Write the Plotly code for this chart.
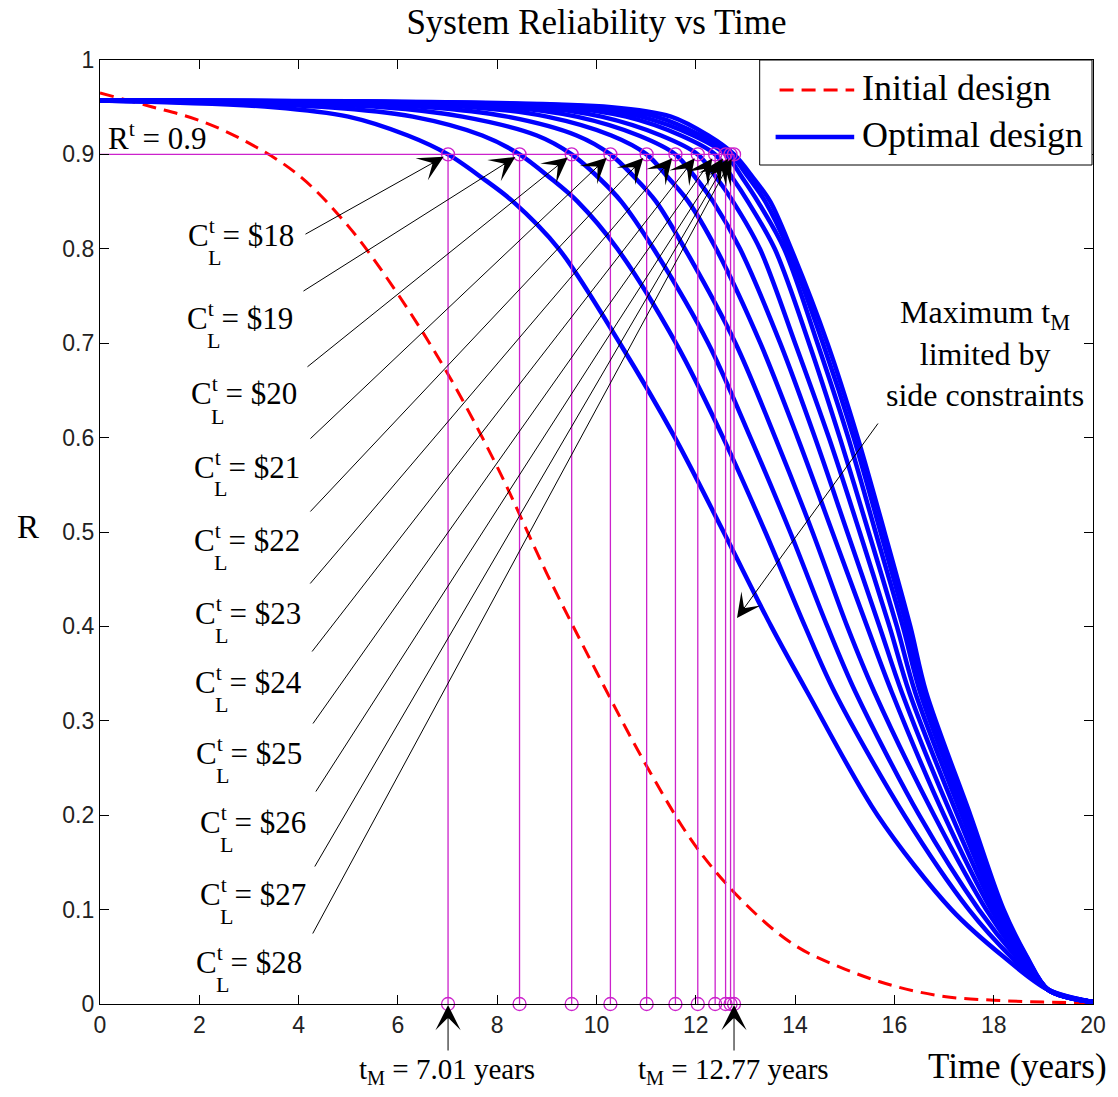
import plotly.graph_objects as go

# ---------------- data ----------------
TIME_INITIAL = [0, 1, 2, 3, 4, 5, 6, 7, 8, 9, 10, 11, 12, 13, 14, 15, 16, 17, 18, 19, 20]
R_INITIAL = [0.965, 0.951, 0.936, 0.912, 0.878, 0.824, 0.752, 0.668, 0.569, 0.456, 0.352,
             0.253, 0.167, 0.106, 0.062, 0.037, 0.019, 0.008, 0.004, 0.002, 0.001]

# reliability levels shared by every optimal-design curve; times at which each curve reaches them
R_LEVELS = [0.957, 0.95, 0.94, 0.92, 0.90, 0.875, 0.85, 0.80, 0.70, 0.60, 0.50, 0.40, 0.33, 0.20, 0.10,
            0.05, 0.015, 0.002]
T_C18 = [0, 3.5, 5.0, 6.2, 7.01, 7.70, 8.32, 9.24, 10.47, 11.58, 12.56, 13.52, 14.25, 15.66, 17.15, 18.20, 19.1, 20]
T_C19 = [0, 4.6, 6.3, 7.7, 8.45, 9.07, 9.62, 10.42, 11.60, 12.55, 13.40, 14.20, 14.80, 16.20, 17.50, 18.35, 19.1, 20]
T_C20 = [0, 5.7, 7.3, 8.8, 9.50, 10.05, 10.50, 11.15, 12.25, 13.10, 13.90, 14.65, 15.22, 16.50, 17.70, 18.45, 19.1, 20]
T_C21 = [0, 6.6, 8.2, 9.6, 10.28, 10.78, 11.20, 11.78, 12.80, 13.60, 14.35, 15.05, 15.60, 16.80, 17.85, 18.52, 19.1, 20]
T_C22 = [0, 7.5, 9.0, 10.3, 11.01, 11.45, 11.85, 12.41, 13.30, 14.05, 14.75, 15.45, 15.95, 17.00, 17.95, 18.56, 19.1, 20]
T_C23 = [0, 8.2, 9.6, 10.85, 11.59, 12.00, 12.35, 12.89, 13.70, 14.40, 15.05, 15.70, 16.15, 17.15, 18.02, 18.59, 19.1, 20]
T_C24 = [0, 8.8, 10.1, 11.3, 12.04, 12.42, 12.75, 13.29, 14.00, 14.68, 15.30, 15.90, 16.30, 17.27, 18.08, 18.62, 19.1, 20]
T_C25 = [0, 9.3, 10.6, 11.7, 12.39, 12.74, 13.05, 13.59, 14.28, 14.90, 15.48, 16.05, 16.42, 17.36, 18.12, 18.64, 19.1, 20]
T_C26 = [0, 9.7, 10.9, 11.95, 12.60, 12.94, 13.25, 13.78, 14.45, 15.07, 15.62, 16.17, 16.52, 17.43, 18.15, 18.65, 19.1, 20]
T_C27 = [0, 10.0, 11.2, 12.1, 12.70, 13.07, 13.40, 13.86, 14.56, 15.18, 15.72, 16.25, 16.58, 17.48, 18.18, 18.66, 19.1, 20]
T_C28 = [0, 10.3, 11.5, 12.25, 12.77, 13.16, 13.50, 13.92, 14.65, 15.26, 15.80, 16.32, 16.64, 17.53, 18.20, 18.67, 19.1, 20]

COSTS = [18, 19, 20, 21, 22, 23, 24, 25, 26, 27, 28]
T_M = [7.01, 8.45, 9.50, 10.28, 11.01, 11.59, 12.04, 12.39, 12.60, 12.70, 12.77]
R_TARGET = 0.9

CURVES = [T_C18, T_C19, T_C20, T_C21, T_C22, T_C23, T_C24, T_C25, T_C26, T_C27, T_C28]

X_TICKS = [0, 2, 4, 6, 8, 10, 12, 14, 16, 18, 20]
Y_TICKS = [0, 0.1, 0.2, 0.3, 0.4, 0.5, 0.6, 0.7, 0.8, 0.9, 1]
Y_TICK_TEXT = ["0", "0.1", "0.2", "0.3", "0.4", "0.5", "0.6", "0.7", "0.8", "0.9", "1"]

# ---------------- layout helpers (pixel -> paper / data, for placing text) ----------------
L, R_, T, B = 100, 20, 60, 93
W, H = 1118, 1097
PW, PH = W - L - R_, H - T - B


def px_x(px):
    return (px - L) / PW


def px_y(py):
    return (T + PH - py) / PH


def tx(px):
    return px_x(px) * 20.0


SERIF = "Liberation Serif, Times New Roman, serif"
SANS = "Liberation Sans, Arial, sans-serif"
MAG = "#CC22CC"

fig = go.Figure()

# initial design (red dashed)
fig.add_trace(go.Scatter(x=TIME_INITIAL, y=R_INITIAL, mode="lines", name="Initial design",
                         line=dict(color="#FF0000", width=3, dash="14px,8px", shape="spline", smoothing=1.0),
                         showlegend=False))

# optimal designs (blue)
for c, times in zip(COSTS, CURVES):
    fig.add_trace(go.Scatter(x=times, y=R_LEVELS, mode="lines", name=f"C = ${c}",
                             line=dict(color="#0000FF", width=4.5, shape="spline", smoothing=0.9),
                             showlegend=False))

# magenta target line and verticals
vx, vy = [], []
for tm in T_M:
    vx += [tm, tm, None]
    vy += [0, R_TARGET, None]
fig.add_trace(go.Scatter(x=[0, max(T_M)], y=[R_TARGET, R_TARGET], mode="lines",
                         line=dict(color=MAG, width=1.3), showlegend=False))
fig.add_trace(go.Scatter(x=vx, y=vy, mode="lines", line=dict(color=MAG, width=1.3), showlegend=False))
fig.add_trace(go.Scatter(x=T_M + T_M, y=[R_TARGET] * len(T_M) + [0] * len(T_M), mode="markers",
                         marker=dict(symbol="circle-open", size=13, color=MAG, line=dict(width=1.3)),
                         showlegend=False, cliponaxis=False))

ann = []
shapes = []


def text_ann(px, py, text, size, xanchor="left", **kw):
    d = dict(x=px_x(px), y=px_y(py), xref="paper", yref="paper", xanchor=xanchor, yanchor="middle",
             text=text, showarrow=False, font=dict(family=SERIF, size=size, color="black"))
    d.update(kw)
    return d


# cost labels with arrows
TAILS_PX = [(305, 235), (303, 292), (307, 368), (310, 440), (310, 513), (310, 585),
            (312, 653), (313, 725), (316, 793), (315, 868), (313, 935)]
LABEL_PX = [(186, 233), (185, 316), (189, 392), (192, 465), (192, 538), (193, 611),
            (193, 680), (194, 751), (198, 820), (198, 892), (194, 960)]
for c, tm, tail, lab in zip(COSTS, T_M, TAILS_PX, LABEL_PX):
    ann.append(dict(x=tm, y=R_TARGET, ax=tx(tail[0]), ay=px_y(tail[1]), axref="x", ayref="y",
                    xref="x", yref="y", text="", showarrow=True, arrowhead=3, arrowsize=4.2,
                    arrowwidth=1, arrowcolor="black", standoff=5))
    ann.append(text_ann(lab[0], lab[1], f"C<sup>t</sup> = ${c}", 31))
    ann.append(text_ann(lab[0] + 21, lab[1] + 24, "L", 22))

# R^t = 0.9
ann.append(text_ann(106, 137, "R<sup>t</sup> = 0.9", 31))

# Maximum tM annotation
ann.append(dict(x=12.83, y=0.409, ax=tx(883), ay=px_y(422), axref="x", ayref="y", xref="x", yref="y",
                text="", showarrow=True, arrowhead=3, arrowsize=4.0, arrowwidth=1, arrowcolor="black"))
ann.append(text_ann(989, 354, "Maximum t<sub>M</sub><br>limited by<br>side constraints", 32,
                    xanchor="center", align="center"))

# bottom tM arrows and labels
for tm, lab, cx in [(T_M[0], "t<sub>M</sub> = 7.01 years", 449), (T_M[-1], "t<sub>M</sub> = 12.77 years", 737)]:
    ann.append(dict(x=tm, y=0, xref="x", yref="y", ax=0, ay=48, text="", showarrow=True,
                    arrowhead=3, arrowsize=4.2, arrowwidth=1, arrowcolor="black", standoff=1))
    ann.append(text_ann(cx, 1071, lab, 29, xanchor="center"))

# axis titles
ann.append(text_ann(1114, 1066, "Time (years)", 35, xanchor="right"))
ann.append(text_ann(28, 527, "R", 33, xanchor="center"))

# manual legend
shapes.append(dict(type="rect", xref="paper", yref="paper", x0=px_x(763), x1=px_x(1097), y0=px_y(165),
                   y1=px_y(60), line=dict(color="black", width=1), fillcolor="white", layer="above"))
shapes.append(dict(type="line", xref="paper", yref="paper", x0=px_x(783), x1=px_x(858), y0=px_y(90),
                   y1=px_y(90), line=dict(color="#FF0000", width=3, dash="14px,8px"), layer="above"))
shapes.append(dict(type="line", xref="paper", yref="paper", x0=px_x(779), x1=px_x(858), y0=px_y(137),
                   y1=px_y(137), line=dict(color="#0000FF", width=4.5), layer="above"))
ann.append(text_ann(864, 88, "Initial design", 36))
ann.append(text_ann(864, 135, "Optimal design", 36))

axis_common = dict(showline=True, linecolor="black", linewidth=1.2, mirror="ticks", ticks="inside",
                   ticklen=9, tickcolor="black", tickwidth=1, showgrid=False, zeroline=False,
                   tickfont=dict(family=SANS, size=23, color="#222222"))

fig.update_layout(
    width=W, height=H,
    margin=dict(l=L, r=R_, t=T, b=B),
    paper_bgcolor="white", plot_bgcolor="white",
    title=dict(text="System Reliability vs Time", x=0.5, xref="paper", y=1 - 22 / H, yref="container",
               xanchor="center", yanchor="middle", font=dict(family=SERIF, size=35, color="black")),
    xaxis=dict(range=[0, 20], tickvals=X_TICKS, **axis_common),
    yaxis=dict(range=[0, 1], tickvals=Y_TICKS, ticktext=Y_TICK_TEXT, **axis_common),
    annotations=ann, shapes=shapes, showlegend=False,
)

fig.write_html("out.html")
